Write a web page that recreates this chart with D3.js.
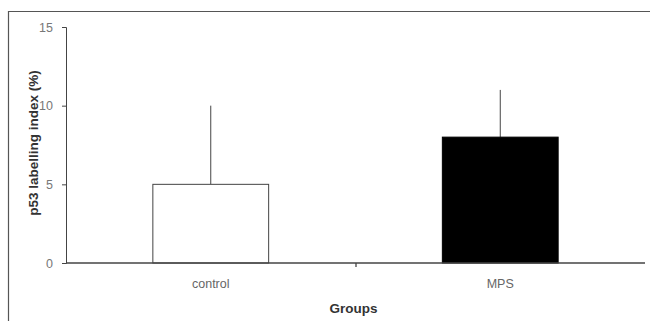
<!DOCTYPE html>
<html>
<head>
<meta charset="utf-8">
<script src="https://cdn.jsdelivr.net/npm/d3@7"></script>
<style>
  body { margin: 0; background: #fff; }
  svg { display: block; font-family: "Liberation Sans", Arial, sans-serif; }
</style>
</head>
<body>
<div id="vis"></div>
<script>
// data
const groups = ["control", "MPS"];
const means = [5, 8];
const errors = [5, 3];
const barFills = ["#ffffff", "#000000"];
const yTicks = [0, 5, 10, 15];

const FRAME_WIDTH = 650;
const FRAME_HEIGHT = 321;
const MARGINS = {left: 66, right: 5, top: 27, bottom: 58};
const VIS_WIDTH = FRAME_WIDTH - MARGINS.left - MARGINS.right;
const VIS_HEIGHT = FRAME_HEIGHT - MARGINS.top - MARGINS.bottom;

const svg = d3.select("#vis")
  .append("svg")
    .attr("width", FRAME_WIDTH)
    .attr("height", FRAME_HEIGHT);

// outer frame (left and top edges visible)
svg.append("path")
  .attr("d", "M8.5," + FRAME_HEIGHT + " V11.5 H" + FRAME_WIDTH)
  .attr("fill", "none")
  .attr("stroke", "#555")
  .attr("stroke-width", 1.2);

const X_SCALE = d3.scaleBand()
  .domain(groups)
  .range([0, VIS_WIDTH])
  .paddingInner(0.6)
  .paddingOuter(0.3);

const X_BOUNDS = d3.scaleLinear()
  .domain([0, groups.length])
  .range([0, VIS_WIDTH]);

const Y_SCALE = d3.scaleLinear()
  .domain([0, 15])
  .range([VIS_HEIGHT, 0]);

const g = svg.append("g")
  .attr("transform", "translate(" + MARGINS.left + "," + MARGINS.top + ")");

const data = groups.map((d, i) => ({group: d, mean: means[i], err: errors[i], fill: barFills[i]}));

// error bars (upper only)
g.selectAll(".err")
  .data(data)
  .enter()
  .append("line")
    .attr("x1", (d) => X_SCALE(d.group) + X_SCALE.bandwidth() / 2)
    .attr("x2", (d) => X_SCALE(d.group) + X_SCALE.bandwidth() / 2)
    .attr("y1", (d) => Y_SCALE(d.mean))
    .attr("y2", (d) => Y_SCALE(d.mean + d.err))
    .attr("stroke", "#444")
    .attr("stroke-width", 1);

// bars
g.selectAll(".bar")
  .data(data)
  .enter()
  .append("rect")
    .attr("x", (d) => X_SCALE(d.group))
    .attr("y", (d) => Y_SCALE(d.mean))
    .attr("width", X_SCALE.bandwidth())
    .attr("height", (d) => VIS_HEIGHT - Y_SCALE(d.mean))
    .attr("fill", (d) => d.fill)
    .attr("stroke", (d) => d.fill === "#000000" ? "#000" : "#444")
    .attr("stroke-width", 1);

// y axis
const yAxis = g.append("g")
  .call(d3.axisLeft(Y_SCALE).tickValues(yTicks).tickSize(4).tickPadding(9));
yAxis.selectAll("path, line").attr("stroke", "#444");
yAxis.selectAll("text").attr("fill", "#777").attr("font-size", "12.5px");

// x axis with ticks at group boundaries
const xAxis = g.append("g")
  .attr("transform", "translate(0," + VIS_HEIGHT + ")")
  .call(d3.axisBottom(X_BOUNDS).tickValues([1]).tickSize(4).tickFormat(""));
xAxis.select("path").attr("d", "M0,0H" + VIS_WIDTH);
xAxis.selectAll("path, line").attr("stroke", "#444").attr("stroke-width", 1.3);

g.selectAll(".cat")
  .data(groups)
  .enter()
  .append("text")
    .attr("x", (d) => X_SCALE(d) + X_SCALE.bandwidth() / 2)
    .attr("y", VIS_HEIGHT + 25)
    .attr("text-anchor", "middle")
    .attr("fill", "#666")
    .attr("font-size", "12.5px")
    .text((d) => d);

// axis titles
svg.append("text")
  .attr("x", MARGINS.left + VIS_WIDTH / 2 - 2)
  .attr("y", 313)
  .attr("text-anchor", "middle")
  .attr("font-weight", "bold")
  .attr("font-size", "13.5px")
  .attr("fill", "#333")
  .text("Groups");

svg.append("text")
  .attr("transform", "translate(38,143) rotate(-90)")
  .attr("text-anchor", "middle")
  .attr("font-weight", "bold")
  .attr("font-size", "13.5px")
  .attr("fill", "#333")
  .text("p53 labelling index (%)");
</script>
</body>
</html>
